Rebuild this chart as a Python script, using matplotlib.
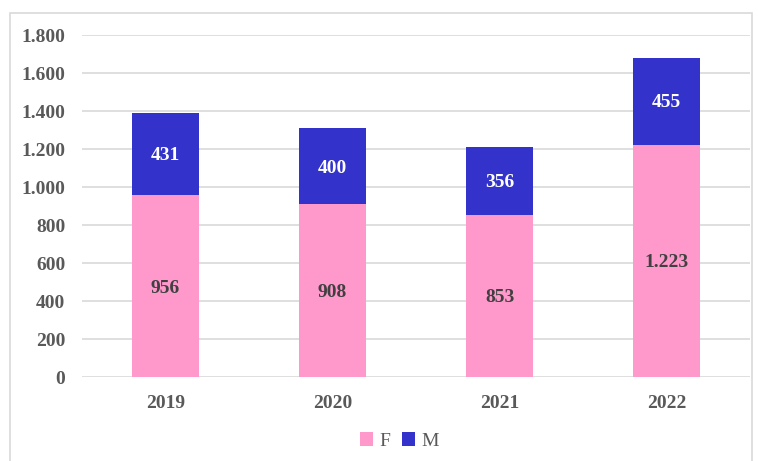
import matplotlib
matplotlib.use('Agg')
import matplotlib.pyplot as plt
from matplotlib.patches import Rectangle
from matplotlib.ticker import FuncFormatter
import numpy as np

years = ['2019', '2020', '2021', '2022']
f_vals = [956, 908, 853, 1223]
m_vals = [431, 400, 356, 455]

def fmt(v):
    return f'{int(v):,}'.replace(',', '.')

plt.rcParams['font.family'] = 'Liberation Serif'
fig = plt.figure(figsize=(7.58, 4.61), dpi=100)
ax = fig.add_axes([82/758, 1-377/461, 668/758, 342/461])

x = np.arange(len(years))
ax.bar(x, f_vals, width=0.4, color='#FF99CC', label='F', zorder=3)
ax.bar(x, m_vals, width=0.4, bottom=f_vals, color='#3333CC', label='M', zorder=3)

for i in range(len(years)):
    ax.text(x[i], f_vals[i]/2 - 10, fmt(f_vals[i]), ha='center', va='center',
            fontsize=14, fontweight='bold', color='#404040', zorder=4)
    ax.text(x[i], f_vals[i] + m_vals[i]/2 - 8, fmt(m_vals[i]), ha='center', va='center',
            fontsize=14, fontweight='bold', color='white', zorder=4)

ax.set_xlim(-0.5, 3.5)
ax.set_ylim(0, 1800)
ax.set_yticks(range(0, 1801, 200))
ax.yaxis.set_major_formatter(FuncFormatter(lambda v, p: fmt(v)))
ax.set_xticks(x)
ax.set_xticklabels(years)
for lbl in ax.get_xticklabels() + ax.get_yticklabels():
    lbl.set_fontweight('bold')
    lbl.set_fontsize(14)
    lbl.set_color('#595959')
ax.tick_params(length=0)
ax.tick_params(axis='y', pad=12)
ax.tick_params(axis='x', pad=13)
ax.grid(axis='y', color='#d9d9d9', lw=1.2, zorder=0)
for s in ax.spines.values():
    s.set_visible(False)

leg = fig.legend(loc='center', bbox_to_anchor=(399/758, 1-441/461), ncol=2, frameon=False,
                 fontsize=14, handlelength=0.7, handleheight=0.7, columnspacing=0.6,
                 handletextpad=0.3)
for t in leg.get_texts():
    t.set_color('#595959')

fig.patches.append(Rectangle((10/758, -0.01), 742/758, 1-13/461+0.01, transform=fig.transFigure,
                             fill=False, edgecolor='#d9d9d9', lw=1.2))

fig.savefig('out.png', dpi=100)
